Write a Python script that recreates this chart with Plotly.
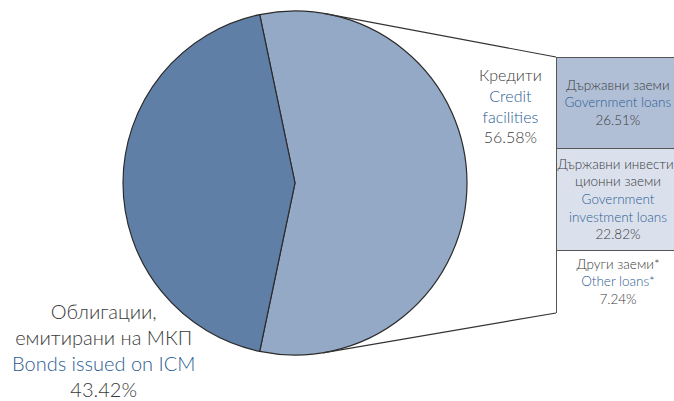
import plotly.graph_objects as go

W, H = 674, 401

# ---- data ----
pie_labels_bg = ["Кредити", "Облигации,<br>емитирани на МКП"]
pie_labels_en = ["Credit<br>facilities", "Bonds issued on ICM"]
pie_values = [56.58, 43.42]

loan_labels_bg = ["Държавни заеми", "Държавни инвести-<br>ционни заеми", "Други заеми*"]
loan_labels_en = ["Government loans", "Government<br>investment loans", "Other loans*"]
loan_values = [26.51, 22.82, 7.24]

# ---- styling / layout constants ----
box_heights = [91, 102, 63]          # display heights of the breakdown boxes (px)
pie_colors = ["#94a9c6", "#5f7fa6"]
box_colors = ["#b0bfd6", "#dae1ed", "#ffffff"]
BG_COL = "#3a3a3a"
EN_COL = "#2c5d92"
FONT = "Lato Light, Lato"


def px(x):
    return x / W


def py(y):
    return 1 - y / H


def label(bg, en, val):
    return (f"<span style='color:{BG_COL}'>{bg}</span><br>"
            f"<span style='color:{EN_COL}'>{en}</span><br>"
            f"<span style='color:{BG_COL}'>{val:.2f}%</span>")


fig = go.Figure()

# pie: credit slice centred on the right side
credit_angle = pie_values[0] / 100 * 360
fig.add_trace(go.Pie(
    values=pie_values,
    labels=["Credit", "Bonds"],
    sort=False,
    direction="clockwise",
    rotation=90 - credit_angle / 2,
    marker=dict(colors=pie_colors, line=dict(color="#2b2b2b", width=1.2)),
    textinfo="none",
    hoverinfo="label+percent",
    showlegend=False,
    domain=dict(x=[px(123), px(467)], y=[py(355), py(11)]),
))

# breakdown boxes (stacked, bottom to top)
order = [2, 1, 0]
for i in order:
    fig.add_trace(go.Bar(
        x=[618], y=[box_heights[i]], width=[124],
        marker=dict(color=box_colors[i], line=dict(color="#555555", width=1)),
        text=[label(loan_labels_bg[i], loan_labels_en[i], loan_values[i])],
        textposition="inside", insidetextanchor="middle",
        constraintext="none", cliponaxis=False,
        textfont=dict(family=FONT, size=13.5, weight=300),
        xaxis="x", yaxis="y", showlegend=False,
        hovertemplate=f"{loan_labels_en[i].replace('<br>', ' ')}: {loan_values[i]}%<extra></extra>",
    ))

fig.update_layout(
    width=W, height=H,
    margin=dict(l=0, r=0, t=0, b=0),
    paper_bgcolor="white", plot_bgcolor="rgba(0,0,0,0)",
    barmode="stack",
    font=dict(family=FONT, weight=300),
    xaxis=dict(domain=[px(550), 1], range=[550, 674], visible=False, fixedrange=True),
    yaxis=dict(domain=[py(313), py(57)], range=[0, sum(box_heights)], visible=False, fixedrange=True),
)

# pie labels
fig.add_annotation(x=px(510), y=py(106), xref="paper", yref="paper",
                   text=label(pie_labels_bg[0], pie_labels_en[0], pie_values[0]),
                   showarrow=False, font=dict(family=FONT, size=16, weight=300),
                   xanchor="center", yanchor="middle", align="center")
fig.add_annotation(x=px(103), y=py(350), xref="paper", yref="paper",
                   text=label(pie_labels_bg[1], pie_labels_en[1], pie_values[1]),
                   showarrow=False, font=dict(family=FONT, size=20, weight=300),
                   xanchor="center", yanchor="middle", align="center")

# connector lines from pie to boxes
fig.add_shape(type="line", xref="paper", yref="paper",
              x0=px(325), y0=py(13.7), x1=px(556), y1=py(57),
              line=dict(color="#333333", width=1.2))
fig.add_shape(type="line", xref="paper", yref="paper",
              x0=px(323), y0=py(352.8), x1=px(556), y1=py(313),
              line=dict(color="#333333", width=1.2))

fig.write_html("out.html", config={"displayModeBar": False},
               post_script="document.body.style.margin='0';")
